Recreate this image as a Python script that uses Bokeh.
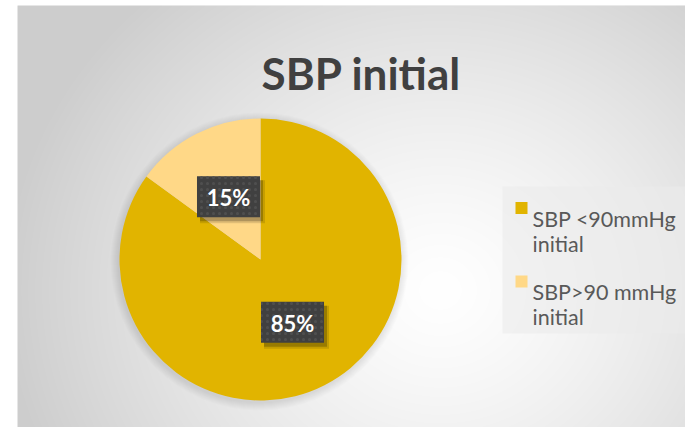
import numpy as np
from bokeh.plotting import figure
from bokeh.models import Range1d
from bokeh.core.properties import value
from bokeh.embed import file_html
from bokeh.resources import INLINE

# ---- data ----
title_text = "SBP initial"
categories = ["SBP <90mmHg initial", "SBP>90 mmHg initial"]
legend_lines = [["SBP <90mmHg", "initial"], ["SBP>90 mmHg", "initial"]]
percent = [85, 15]
colors = ["#E1B400", "#FFD887"]

# ---- layout (page pixel coordinates; data y = -page y) ----
W, H = 685, 427
X0, X1 = 17, W
Y0, Y1 = 5, H

p = figure(width=W, height=H, output_backend="svg", toolbar_location=None,
           x_range=Range1d(X0, X1), y_range=Range1d(-Y1, -Y0),
           x_axis_location=None, y_axis_location=None,
           min_border_left=X0, min_border_right=0, min_border_top=Y0, min_border_bottom=0)
p.grid.visible = False
p.outline_line_color = None
p.border_fill_color = "white"
p.background_fill_color = "#e0e0e0"

# radial gradient background
nx, ny = X1 - X0, Y1 - Y0
xs = np.arange(nx) + X0 + 0.5
ys = Y1 - (np.arange(ny) + 0.5)
gx, gy = np.meshgrid(xs, ys)
d = np.sqrt((gx - 440) ** 2 + ((gy - 290) * 1.1) ** 2)
g = (255 - 50 * np.clip(d / 440, 0, 1) ** 1.3).astype(np.uint8)
img = np.empty((ny, nx), dtype=np.uint32)
v = img.view(dtype=np.uint8).reshape((ny, nx, 4))
v[:, :, 0] = g
v[:, :, 1] = g
v[:, :, 2] = g
v[:, :, 3] = 255
p.image_rgba(image=[img], x=X0, y=-Y1, dw=nx, dh=ny)

# title
p.text(x=[361], y=[-72], text=[title_text], text_font=value("Lato"),
       text_font_style="bold", text_font_size="44px", text_color="#404040",
       text_align="center", text_baseline="alphabetic")

# pie
cx, cy, R = 260, -259, 141
for k in range(8):
    p.circle(x=[cx - 1], y=[cy - 2], radius=R + 1 + k, fill_color="black",
             fill_alpha=0.012, line_color=None)

fr = np.array(percent, dtype=float) / sum(percent)
cum_end = np.cumsum(fr) * 2 * np.pi
cum_start = cum_end - fr * 2 * np.pi
starts = np.pi / 2 - cum_end
ends = np.pi / 2 - cum_start
p.wedge(x=cx, y=cy, radius=R, start_angle=list(starts), end_angle=list(ends),
        fill_color=colors, line_color=None)

# data labels
mids = np.pi / 2 - (cum_start + cum_end) / 2
lx = cx + 0.5 * R * np.cos(mids)
ly = cy + 0.5 * R * np.sin(mids)
labels = [f"{v_}%" for v_ in percent]
p.rect(x=list(lx + 4), y=list(ly - 5), width=65, height=43, fill_color="black",
       fill_alpha=0.12, line_color=None)
p.rect(x=list(lx + 3), y=list(ly - 4), width=63, height=41, fill_color="black",
       fill_alpha=0.22, line_color=None)
p.rect(x=list(lx), y=list(ly), width=63, height=41, fill_color="#404040",
       line_color=None, hatch_pattern="dot", hatch_color="#4f4f4f",
       hatch_scale=6, hatch_weight=1)
p.text(x=list(lx), y=list(ly - 1), text=labels, text_color="white",
       text_font=value("Lato"), text_font_style="bold", text_font_size="22px",
       text_align="center", text_baseline="middle")

# legend
p.rect(x=[(502 + 685) / 2], y=[-(186 + 333) / 2], width=183, height=147,
       fill_color="#ebebeb", fill_alpha=0.6, line_color=None)
for i, (lines, c) in enumerate(zip(legend_lines, colors)):
    base = 218 + 73.5 * i
    p.rect(x=[521], y=[-(base - 10.5)], width=12, height=12, fill_color=c, line_color=None)
    for j, t in enumerate(lines):
        p.text(x=[532], y=[-(base + 25 * j)], text=[t], text_font=value("Lato"),
               text_font_size="21.5px", text_color="#595959",
               text_align="left", text_baseline="alphabetic")

open("out.html", "w").write(file_html(p, INLINE))
